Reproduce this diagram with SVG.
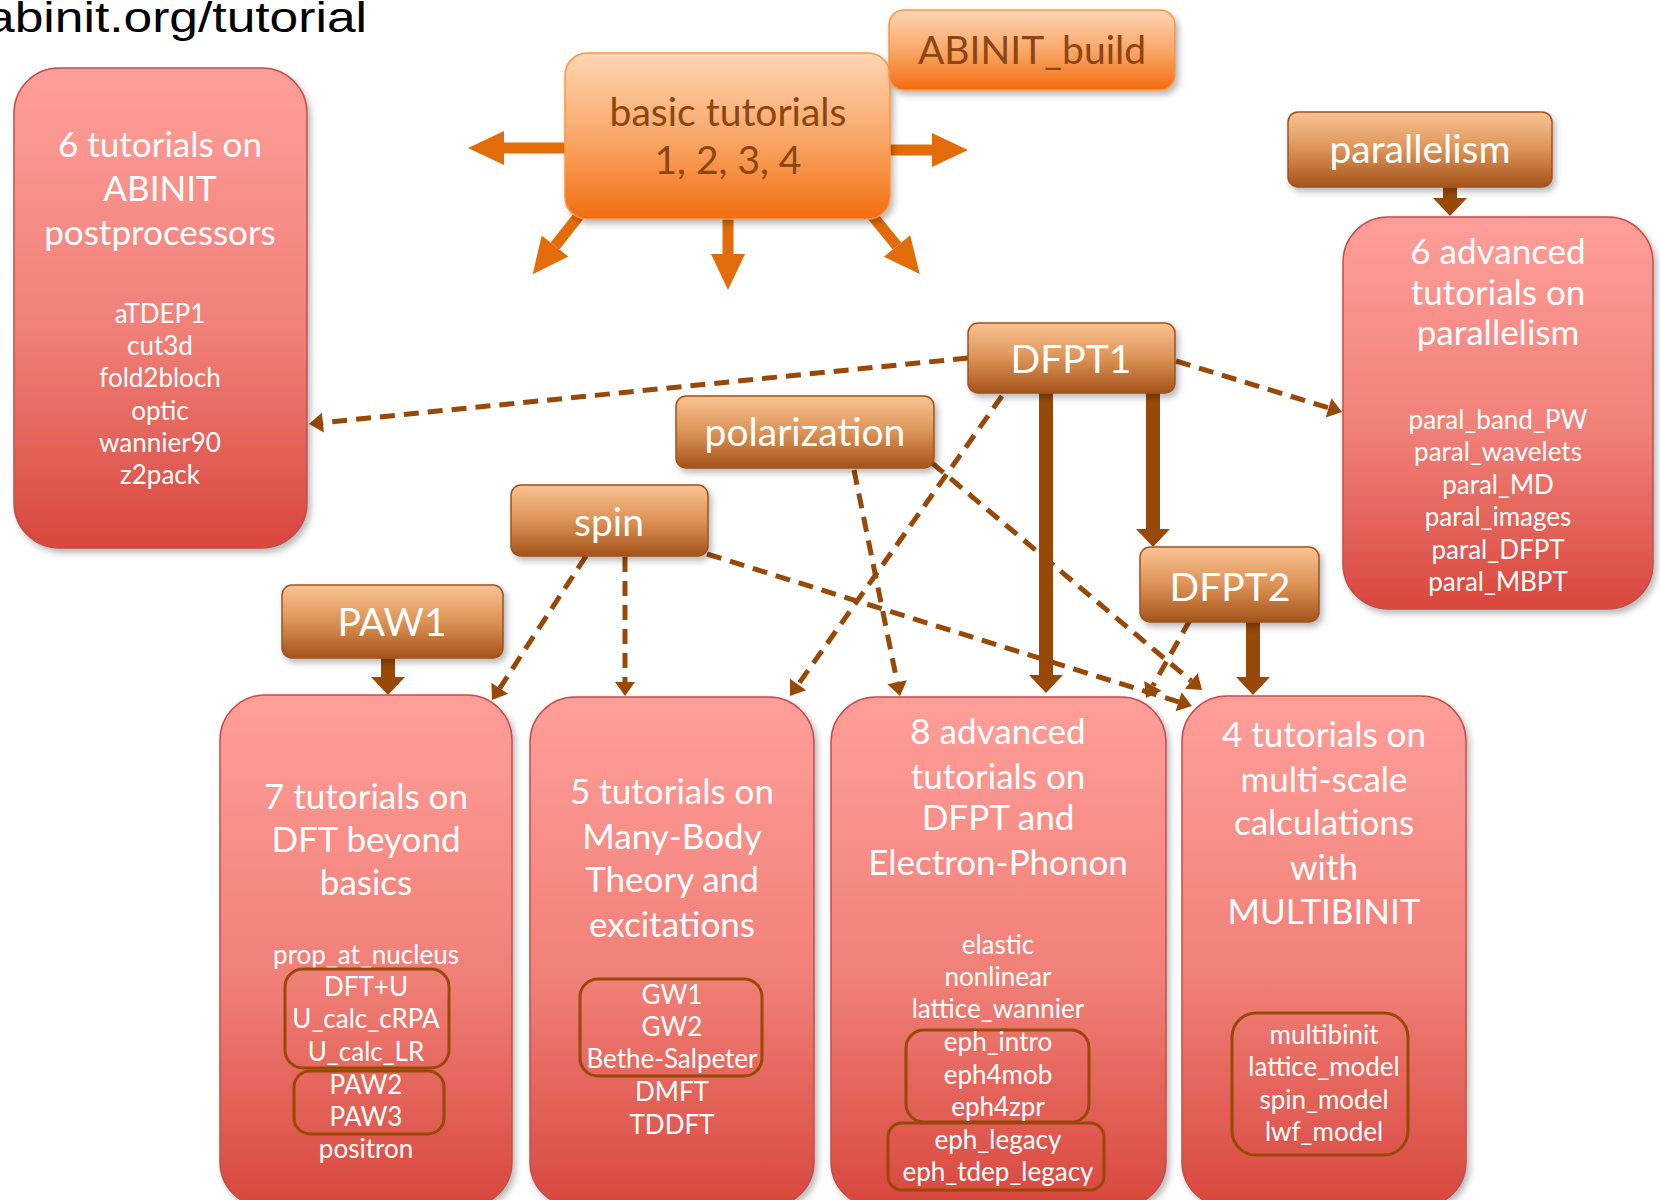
<svg xmlns="http://www.w3.org/2000/svg" width="1660" height="1200" viewBox="0 0 1660 1200">
<defs>
<linearGradient id="gRed" x1="0" y1="0" x2="0" y2="1">
<stop offset="0" stop-color="#ff9e99"/><stop offset="0.55" stop-color="#f08078"/><stop offset="1" stop-color="#d8473d"/>
</linearGradient>
<linearGradient id="gBrown" x1="0" y1="0" x2="0" y2="1">
<stop offset="0" stop-color="#fac393"/><stop offset="0.5" stop-color="#dc9356"/><stop offset="1" stop-color="#a4531a"/>
</linearGradient>
<linearGradient id="gOrange" x1="0" y1="0" x2="0" y2="1">
<stop offset="0" stop-color="#fdd6b4"/><stop offset="0.55" stop-color="#f9a361"/><stop offset="1" stop-color="#f36d10"/>
</linearGradient>
<filter id="sh" x="-10%" y="-10%" width="125%" height="125%">
<feDropShadow dx="3" dy="4" stdDeviation="3" flood-color="#000" flood-opacity="0.28"/>
</filter>
<marker id="ho" markerUnits="userSpaceOnUse" markerWidth="36" markerHeight="34" refX="0" refY="17" orient="auto" overflow="visible">
<path d="M0,0 L36,17 L0,34 Z" fill="#e36c0a"/>
</marker>
<marker id="hb" markerUnits="userSpaceOnUse" markerWidth="18" markerHeight="34" refX="0" refY="17" orient="auto" overflow="visible">
<path d="M0,0 L18,17 L0,34 Z" fill="#984807"/>
</marker>
<marker id="hd" markerUnits="userSpaceOnUse" markerWidth="14" markerHeight="20" refX="0" refY="10" orient="auto" overflow="visible">
<path d="M0,0 L14,10 L0,20 Z" fill="#984807"/>
</marker>
<style>
.red{fill:url(#gRed);stroke:#c0504d;stroke-width:1.5;filter:url(#sh)}
.brn{fill:url(#gBrown);stroke:#a0521d;stroke-width:1.5;filter:url(#sh)}
.org{fill:url(#gOrange);stroke:#f79646;stroke-width:1.5;filter:url(#sh)}
.inner{fill:none;stroke:#984807;stroke-width:3}
.t{font-family:Lato,Carlito,"Open Sans",sans-serif;fill:#ffffff;text-anchor:middle}
.ttl{font-size:35px}
.itm{font-size:26px}
.lbl{font-size:39px}
.lo{fill:#8e4511}
.oa{stroke:#e36c0a;stroke-width:11;fill:none;marker-end:url(#ho)}
.sa{stroke:#984807;stroke-width:14;fill:none;marker-end:url(#hb)}
.da{stroke:#984807;stroke-width:5;fill:none;stroke-dasharray:15 9;marker-end:url(#hd)}
</style>
</defs>
<rect width="1660" height="1200" fill="#ffffff"/>
<text x="-14" y="32" font-family="Liberation Sans, Arial, sans-serif" font-size="43" textLength="381" lengthAdjust="spacingAndGlyphs" fill="#000">abinit.org/tutorial</text>

<g id="connectors">
<path class="oa" d="M570,148 L504,148"/>
<path class="oa" d="M885,150 L932,150"/>
<path class="oa" d="M728,215 L728,254"/>
<path class="oa" d="M585,208 L555,246"/>
<path class="oa" d="M866,208 L897,246"/>
<path class="sa" d="M388,655 L388,677"/>
<path class="sa" d="M1450,185 L1450,198"/>
<path class="sa" d="M1046,390 L1046,675"/>
<path class="sa" d="M1153,390 L1153,529"/>
<path class="sa" d="M1253,618 L1253,677"/>
<path class="da" d="M968,358 L322.9,422.6"/>
<path class="da" d="M1176,361 L1328.6,407.9"/>
<path class="da" d="M1002,396 L798.1,684.6"/>
<path class="da" d="M854,470 L897.2,682.3"/>
<path class="da" d="M932,463 L1191.3,681"/>
<path class="da" d="M586,556 L499.7,688.3"/>
<path class="da" d="M625,557 L625,682"/>
<path class="da" d="M707,554 L1178.6,701.8"/>
<path class="da" d="M1190,620 L1152.9,685.8"/>
</g>

<g id="basic">
<rect class="org" x="565" y="53" width="325" height="166" rx="22"/>
<text class="t lbl lo" x="728" y="126">basic tutorials</text>
<text class="t lbl lo" x="728" y="174">1, 2, 3, 4</text>
</g>
<g id="abinit_build">
<rect class="org" x="889" y="10" width="286" height="80" rx="15"/>
<text class="t lbl lo" x="1032" y="64">ABINIT_build</text>
</g>
<g id="parallelism">
<rect class="brn" x="1288" y="112" width="264" height="75" rx="10"/>
<text class="t lbl" x="1420" y="163">parallelism</text>
</g>
<g id="dfpt1">
<rect class="brn" x="968" y="323" width="207" height="70" rx="10"/>
<text class="t lbl" x="1071" y="373">DFPT1</text>
</g>
<g id="polarization">
<rect class="brn" x="676" y="396" width="258" height="72" rx="10"/>
<text class="t lbl" x="805" y="446">polarization</text>
</g>
<g id="spin">
<rect class="brn" x="511" y="485" width="197" height="71" rx="10"/>
<text class="t lbl" x="609" y="536">spin</text>
</g>
<g id="paw1">
<rect class="brn" x="282" y="585" width="221" height="73" rx="10"/>
<text class="t lbl" x="392" y="636">PAW1</text>
</g>
<g id="dfpt2">
<rect class="brn" x="1140" y="547" width="179" height="75" rx="10"/>
<text class="t lbl" x="1230" y="601">DFPT2</text>
</g>

<g id="postprocessors">
<rect class="red" x="14" y="68" width="293" height="480" rx="45"/>
<text class="t ttl" x="160" y="157">6 tutorials on</text>
<text class="t ttl" x="160" y="201">ABINIT</text>
<text class="t ttl" x="160" y="245">postprocessors</text>
<text class="t itm" x="160" y="323">aTDEP1</text>
<text class="t itm" x="160" y="355">cut3d</text>
<text class="t itm" x="160" y="387">fold2bloch</text>
<text class="t itm" x="160" y="420">optic</text>
<text class="t itm" x="160" y="452">wannier90</text>
<text class="t itm" x="160" y="484">z2pack</text>
</g>

<g id="paral_box">
<rect class="red" x="1343" y="217" width="310" height="392" rx="45"/>
<text class="t ttl" x="1498" y="264">6 advanced</text>
<text class="t ttl" x="1498" y="305">tutorials on</text>
<text class="t ttl" x="1498" y="345">parallelism</text>
<text class="t itm" x="1498" y="429">paral_band_PW</text>
<text class="t itm" x="1498" y="461">paral_wavelets</text>
<text class="t itm" x="1498" y="494">paral_MD</text>
<text class="t itm" x="1498" y="526">paral_images</text>
<text class="t itm" x="1498" y="559">paral_DFPT</text>
<text class="t itm" x="1498" y="591">paral_MBPT</text>
</g>

<g id="dft_box">
<rect class="red" x="220" y="695" width="292" height="512" rx="45"/>
<text class="t ttl" x="366" y="809">7 tutorials on</text>
<text class="t ttl" x="366" y="852">DFT beyond</text>
<text class="t ttl" x="366" y="895">basics</text>
<text class="t itm" x="366" y="964">prop_at_nucleus</text>
<rect class="inner" x="285" y="969" width="164" height="99" rx="18"/>
<text class="t itm" x="366" y="996">DFT+U</text>
<text class="t itm" x="366" y="1028">U_calc_cRPA</text>
<text class="t itm" x="366" y="1061">U_calc_LR</text>
<rect class="inner" x="294" y="1071" width="150" height="63" rx="16"/>
<text class="t itm" x="366" y="1094">PAW2</text>
<text class="t itm" x="366" y="1126">PAW3</text>
<text class="t itm" x="366" y="1158">positron</text>
</g>

<g id="mbt_box">
<rect class="red" x="530" y="697" width="284" height="510" rx="45"/>
<text class="t ttl" x="672" y="804">5 tutorials on</text>
<text class="t ttl" x="672" y="849">Many-Body</text>
<text class="t ttl" x="672" y="892">Theory and</text>
<text class="t ttl" x="672" y="937">excitations</text>
<rect class="inner" x="580" y="979" width="182" height="97" rx="18"/>
<text class="t itm" x="672" y="1004">GW1</text>
<text class="t itm" x="672" y="1036">GW2</text>
<text class="t itm" x="672" y="1068">Bethe-Salpeter</text>
<text class="t itm" x="672" y="1101">DMFT</text>
<text class="t itm" x="672" y="1134">TDDFT</text>
</g>

<g id="dfpt_box">
<rect class="red" x="831" y="697" width="335" height="510" rx="45"/>
<text class="t ttl" x="998" y="744">8 advanced</text>
<text class="t ttl" x="998" y="789">tutorials on</text>
<text class="t ttl" x="998" y="830">DFPT and</text>
<text class="t ttl" x="998" y="875">Electron-Phonon</text>
<text class="t itm" x="998" y="954">elastic</text>
<text class="t itm" x="998" y="986">nonlinear</text>
<text class="t itm" x="998" y="1018">lattice_wannier</text>
<rect class="inner" x="906" y="1030" width="183" height="92" rx="18"/>
<text class="t itm" x="998" y="1051">eph_intro</text>
<text class="t itm" x="998" y="1084">eph4mob</text>
<text class="t itm" x="998" y="1116">eph4zpr</text>
<rect class="inner" x="888" y="1123" width="216" height="67" rx="14"/>
<text class="t itm" x="998" y="1149">eph_legacy</text>
<text class="t itm" x="998" y="1181">eph_tdep_legacy</text>
</g>

<g id="multibinit_box">
<rect class="red" x="1182" y="696" width="284" height="511" rx="45"/>
<text class="t ttl" x="1324" y="747">4 tutorials on</text>
<text class="t ttl" x="1324" y="792">multi-scale</text>
<text class="t ttl" x="1324" y="835">calculations</text>
<text class="t ttl" x="1324" y="880">with</text>
<text class="t ttl" x="1324" y="924">MULTIBINIT</text>
<rect class="inner" x="1232" y="1013" width="176" height="142" rx="24"/>
<text class="t itm" x="1324" y="1044">multibinit</text>
<text class="t itm" x="1324" y="1076">lattice_model</text>
<text class="t itm" x="1324" y="1109">spin_model</text>
<text class="t itm" x="1324" y="1141">lwf_model</text>
</g>
</svg>
